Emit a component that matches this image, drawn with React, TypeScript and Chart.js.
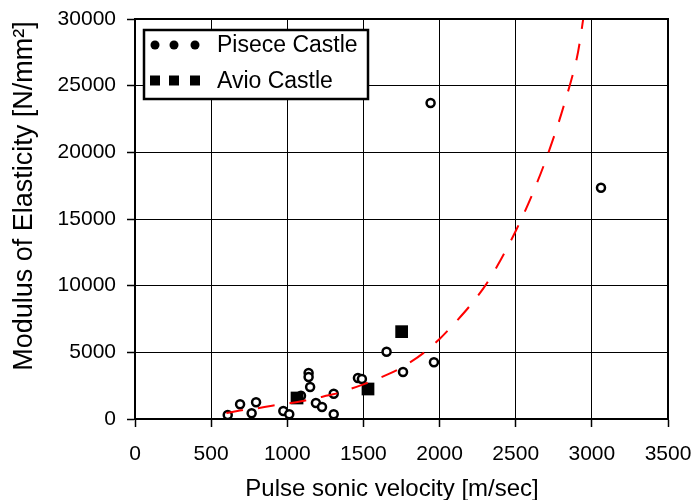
import React, { useEffect, useRef } from "react";
import { Chart, registerables } from "chart.js";

Chart.register(...registerables);

const FONT = "'Liberation Sans', Arial, sans-serif";

const xTicks = [0, 500, 1000, 1500, 2000, 2500, 3000, 3500];
const yTicks = [0, 5000, 10000, 15000, 20000, 25000, 30000];

const legendLabels = ["Pisece Castle", "Avio Castle"];
const xTitle = "Pulse sonic velocity [m/sec]";
const yTitle = "Modulus of Elasticity [N/mm²]";

// Pisece Castle (velocity, modulus)
const piseceV = [609, 690, 766, 795, 974, 1013, 1090, 1140, 1140, 1150, 1188, 1228, 1305, 1305, 1464, 1490, 1652, 1760, 1963, 1941, 3060];
const piseceE = [300, 1100, 430, 1250, 600, 350, 1750, 3450, 3150, 2400, 1200, 900, 1900, 350, 3075, 3000, 5050, 3525, 4250, 23700, 17350];

// Avio Castle
const avioV = [1064, 1530, 1751];
const avioE = [1575, 2250, 6550];

// Fitted curve
const curveV = [600, 700, 800, 900, 1000, 1100, 1200, 1300, 1400, 1500, 1600, 1700, 1800, 1900, 2000, 2100, 2200, 2300, 2400, 2500, 2600, 2700, 2800, 2900, 2950];
const curveE = [450, 650, 800, 1000, 1150, 1350, 1600, 1850, 2200, 2600, 3050, 3550, 4200, 5000, 6000, 7200, 8500, 10000, 11900, 14100, 16600, 19500, 22900, 27000, 30500];

const toXY = (xs: number[], ys: number[]) => xs.map((x, i) => ({ x, y: ys[i] }));

const decorPlugin = {
  id: "decor",
  afterDraw(chart: any) {
    const { ctx, chartArea } = chart;
    const { left, top, right, bottom } = chartArea;
    ctx.save();
    ctx.strokeStyle = "#000";
    ctx.lineWidth = 2;
    ctx.strokeRect(left, top, right - left, bottom - top);

    const bx = 144, by = 30, bw = 224, bh = 69;
    ctx.fillStyle = "#fff";
    ctx.fillRect(bx, by, bw, bh);
    ctx.lineWidth = 2.5;
    ctx.strokeRect(bx, by, bw, bh);
    const mx = [155, 174, 195];
    const rows = [45, 80.5];
    ctx.fillStyle = "#000";
    mx.forEach((x) => {
      ctx.beginPath();
      ctx.arc(x, rows[0], 4.5, 0, Math.PI * 2);
      ctx.fill();
      ctx.fillRect(x - 5, rows[1] - 5, 10, 10);
    });
    ctx.font = `23px ${FONT}`;
    ctx.textAlign = "left";
    ctx.textBaseline = "middle";
    ctx.fillText(legendLabels[0], 217, rows[0] + 1);
    ctx.fillText(legendLabels[1], 217, rows[1] + 1);

    ctx.font = `24px ${FONT}`;
    ctx.textAlign = "center";
    ctx.textBaseline = "alphabetic";
    ctx.fillText(xTitle, 392, 496);
    ctx.save();
    ctx.translate(32, 196);
    ctx.rotate(-Math.PI / 2);
    ctx.font = `27px ${FONT}`;
    ctx.fillText(yTitle, 0, 0);
    ctx.restore();
    ctx.restore();
  },
};

export default function App() {
  const ref = useRef<HTMLCanvasElement | null>(null);
  useEffect(() => {
    if (!ref.current) return;
    const chart = new Chart(ref.current, {
      type: "scatter",
      data: {
        datasets: [
          {
            label: "curve",
            data: toXY(curveV, curveE),
            showLine: true,
            borderColor: "#ff0000",
            borderWidth: 2,
            borderDash: [17, 15],
            pointRadius: 0,
            tension: 0.3,
            order: 0,
          } as any,
          {
            label: legendLabels[1],
            data: toXY(avioV, avioE),
            pointStyle: "rect",
            pointRadius: 9,
            backgroundColor: "#000",
            borderColor: "#000",
            borderWidth: 0,
            order: 1,
          },
          {
            label: legendLabels[0],
            data: toXY(piseceV, piseceE),
            pointStyle: "circle",
            pointRadius: 4,
            backgroundColor: "#fff",
            borderColor: "#000",
            borderWidth: 2.5,
            order: 2,
          },
        ],
      },
      options: {
        responsive: false,
        animation: false,
        devicePixelRatio: 1,
        layout: { padding: { top: 19, right: 27, left: 0, bottom: 0 } },
        plugins: { legend: { display: false }, tooltip: { enabled: false } },
        scales: {
          x: {
            type: "linear",
            min: 0,
            max: 3500,
            afterFit: (s: any) => { s.height = 81; s.paddingLeft = 0; s.paddingRight = 0; },
            afterBuildTicks: (s: any) => { s.ticks = xTicks.map((v) => ({ value: v })); },
            ticks: { color: "#000", font: { family: FONT, size: 21 }, padding: 15, maxRotation: 0, callback: (v: any) => String(v) },
            grid: { color: "#000", lineWidth: 1, tickLength: 8, tickColor: "#000", tickWidth: 1.5 },
            border: { display: true, color: "#000", width: 2 },
          },
          y: {
            type: "linear",
            min: 0,
            max: 30000,
            afterFit: (s: any) => { s.width = 135; s.paddingTop = 0; s.paddingBottom = 0; },
            afterBuildTicks: (s: any) => { s.ticks = yTicks.map((v) => ({ value: v })); },
            ticks: { color: "#000", font: { family: FONT, size: 21 }, padding: 11, callback: (v: any) => String(v) },
            grid: { color: "#000", lineWidth: 1, tickLength: 8, tickColor: "#000", tickWidth: 1.5 },
            border: { display: true, color: "#000", width: 2 },
          },
        },
      },
      plugins: [decorPlugin],
    });
    return () => chart.destroy();
  }, []);
  return (
    <div style={{ position: "absolute", left: 0, top: 0, width: 695, height: 500, background: "#fff" }}>
      <canvas ref={ref} width={695} height={500} />
    </div>
  );
}
